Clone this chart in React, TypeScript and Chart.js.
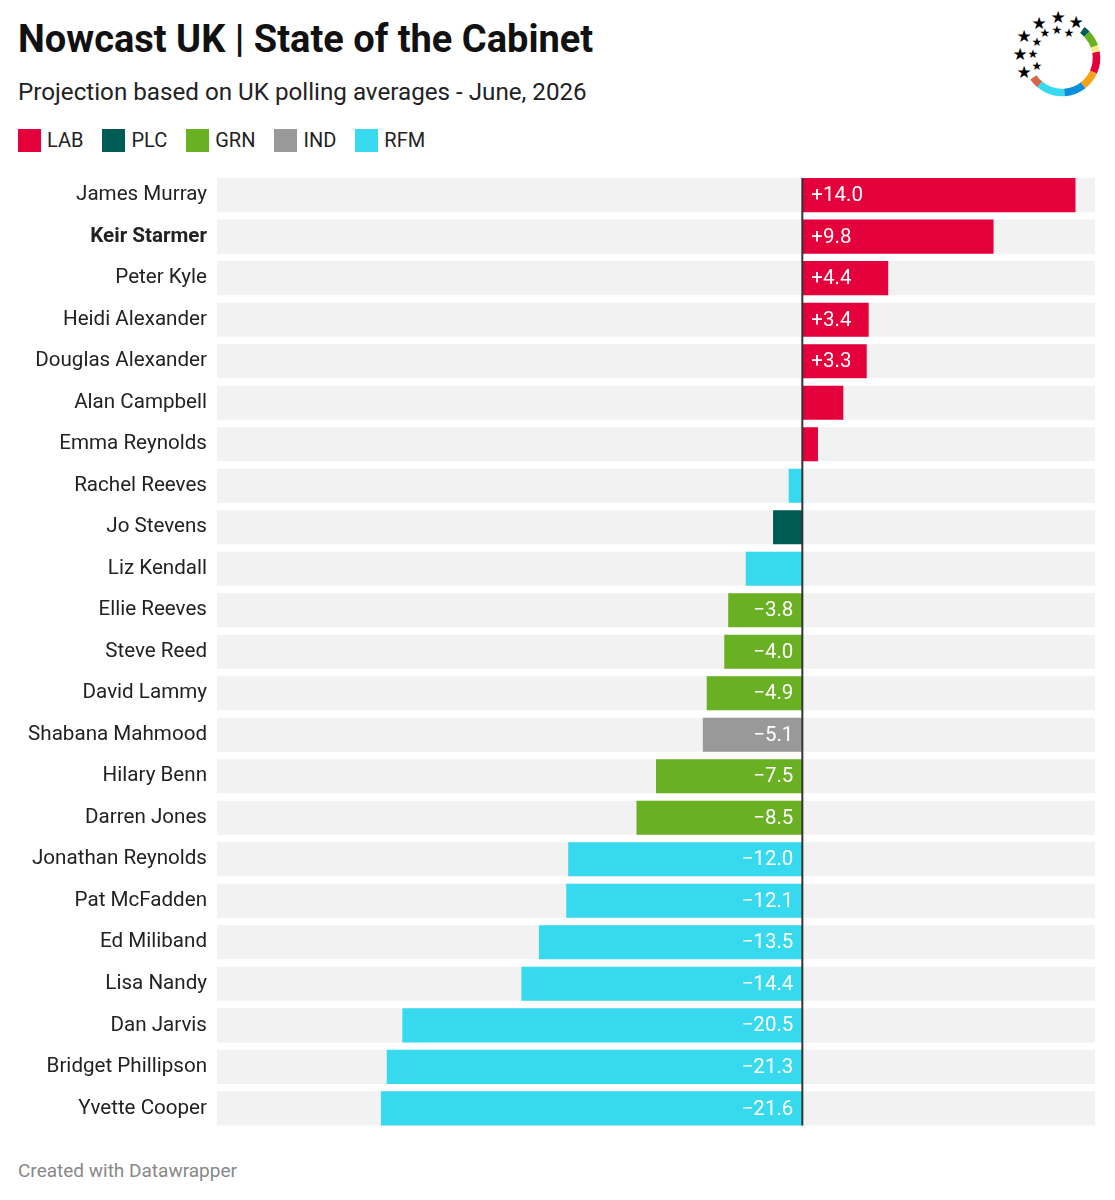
import React, { useEffect, useRef } from "react";
import { Chart, registerables } from "chart.js";

Chart.register(...registerables);

const names: string[] = [
  "James Murray", "Keir Starmer", "Peter Kyle", "Heidi Alexander", "Douglas Alexander",
  "Alan Campbell", "Emma Reynolds", "Rachel Reeves", "Jo Stevens", "Liz Kendall",
  "Ellie Reeves", "Steve Reed", "David Lammy", "Shabana Mahmood", "Hilary Benn",
  "Darren Jones", "Jonathan Reynolds", "Pat McFadden", "Ed Miliband", "Lisa Nandy",
  "Dan Jarvis", "Bridget Phillipson", "Yvette Cooper",
];
const values: number[] = [
  14.0, 9.8, 4.4, 3.4, 3.3, 2.1, 0.8, -0.7, -1.5, -2.9,
  -3.8, -4.0, -4.9, -5.1, -7.5, -8.5, -12.0, -12.1, -13.5, -14.4,
  -20.5, -21.3, -21.6,
];
const parties: string[] = [
  "LAB", "LAB", "LAB", "LAB", "LAB", "LAB", "LAB", "RFM", "PLC", "RFM",
  "GRN", "GRN", "GRN", "IND", "GRN", "GRN", "RFM", "RFM", "RFM", "RFM",
  "RFM", "RFM", "RFM",
];
const legendParties: string[] = ["LAB", "PLC", "GRN", "IND", "RFM"];
const partyColors: Record<string, string> = {
  LAB: "#e4003b",
  PLC: "#005b54",
  GRN: "#6ab023",
  IND: "#999999",
  RFM: "#37d9ee",
};
const highlighted: string[] = ["Keir Starmer"];
const axisMin = -30;
const axisMax = 15;
const labelThreshold = 3.3;

const FONT = "Roboto, 'Noto Sans', sans-serif";

function fmt(v: number): string {
  return (v > 0 ? "+" : "\u2212") + Math.abs(v).toFixed(1);
}

const overlayPlugin = {
  id: "overlay",
  afterDatasetsDraw(chart: any) {
    const { ctx } = chart;
    const xs = chart.scales.x;
    const meta = chart.getDatasetMeta(0);
    const zero = xs.getPixelForValue(0);
    ctx.save();
    ctx.font = `20.5px ${FONT}`;
    ctx.fillStyle = "#ffffff";
    ctx.textBaseline = "middle";
    meta.data.forEach((bar: any, i: number) => {
      const v = values[i];
      if (Math.abs(v) < labelThreshold) return;
      if (v > 0) {
        ctx.textAlign = "left";
        ctx.fillText(fmt(v), zero + 9, bar.y + 1);
      } else {
        ctx.textAlign = "right";
        ctx.fillText(fmt(v), zero - 9, bar.y + 1);
      }
    });
    const first = meta.data[0];
    const last = meta.data[meta.data.length - 1];
    ctx.strokeStyle = "#333333";
    ctx.lineWidth = 2;
    ctx.beginPath();
    ctx.moveTo(zero, first.y - first.height / 2);
    ctx.lineTo(zero, last.y + last.height / 2);
    ctx.stroke();
    ctx.restore();
  },
};

function Logo() {
  const cx = 72, cy = 58, r = 34.5;
  const segs: [number, number, string][] = [
    [130, 146, "#d4684a"],
    [86, 130, "#37d9ee"],
    [52, 86, "#0a8fdc"],
    [24, 52, "#f5a319"],
    [-10, 24, "#e4003b"],
    [-20, -10, "#f7e98a"],
    [-44, -20, "#6ab023"],
    [-54, -44, "#005b54"],
  ];
  const pt = (a: number) => {
    const rad = (a * Math.PI) / 180;
    return [cx + r * Math.cos(rad), cy + r * Math.sin(rad)];
  };
  const stars: [number, number, number][] = [
    [68, 17, 17], [86, 22, 17], [49, 23, 17], [34, 36, 17], [30, 54, 17], [34, 72, 17],
    [55, 33, 12], [67, 30, 12], [79, 33, 12], [47, 42, 12], [43, 54, 12], [47, 66, 12],
  ];
  return (
    <svg width={125} height={110} style={{ position: "absolute", left: 990, top: 0 }}>
      {segs.map(([a0, a1, c], i) => {
        const [x0, y0] = pt(a0);
        const [x1, y1] = pt(a1);
        return (
          <path
            key={i}
            d={`M ${x0} ${y0} A ${r} ${r} 0 0 ${a1 > a0 ? 1 : 0} ${x1} ${y1}`}
            stroke={c}
            strokeWidth={7.5}
            fill="none"
          />
        );
      })}
      {stars.map(([x, y, s], i) => (
        <text key={i} x={x} y={y} fontSize={s} textAnchor="middle" dominantBaseline="central" fill="#000" fontFamily="DejaVu Sans">
          ★
        </text>
      ))}
    </svg>
  );
}

export default function App() {
  const canvasRef = useRef<HTMLCanvasElement | null>(null);

  useEffect(() => {
    if (!canvasRef.current) return;
    const chart = new Chart(canvasRef.current, {
      type: "bar",
      data: {
        labels: names,
        datasets: [
          {
            data: values,
            backgroundColor: parties.map((p) => partyColors[p]),
            borderWidth: 0,
            grouped: false,
            order: 1,
            barPercentage: 0.82,
            categoryPercentage: 1,
          } as any,
          {
            data: names.map(() => [axisMin, axisMax]),
            backgroundColor: "#f2f2f2",
            borderWidth: 0,
            grouped: false,
            order: 2,
            barPercentage: 0.82,
            categoryPercentage: 1,
          } as any,
        ],
      },
      options: {
        indexAxis: "y",
        animation: false,
        responsive: true,
        maintainAspectRatio: false,
        layout: { padding: { top: 13, bottom: 11, left: 0, right: 20 } },
        plugins: { legend: { display: false }, tooltip: { enabled: false }, title: { display: false } },
        scales: {
          x: {
            type: "linear",
            min: axisMin,
            max: axisMax,
            display: false,
          },
          y: {
            grid: { display: false, drawTicks: false },
            border: { display: false },
            afterFit: (scale: any) => {
              scale.width = 217;
            },
            ticks: {
              color: "#222222",
              padding: 10,
              autoSkip: false,
              font: (ctx: any) => ({
                family: FONT,
                size: 20.6,
                weight: highlighted.includes(names[ctx.index]) ? "bold" : "normal",
              }),
            },
          },
        },
      },
      plugins: [overlayPlugin],
    } as any);
    return () => chart.destroy();
  }, []);

  return (
    <div style={{ position: "absolute", left: 0, top: 0, width: 1115, height: 1200, background: "#fff", fontFamily: FONT, color: "#111" }}>
      <div style={{ position: "absolute", left: 18, top: 14, fontSize: 38, fontWeight: 700, lineHeight: "50px", whiteSpace: "nowrap" }}>
        Nowcast UK | State of the Cabinet
      </div>
      <div style={{ position: "absolute", left: 18, top: 77, fontSize: 24.2, lineHeight: "30px", color: "#222", whiteSpace: "nowrap" }}>
        Projection based on UK polling averages - June, 2026
      </div>
      <div style={{ position: "absolute", left: 18, top: 128, display: "flex", alignItems: "center", fontSize: 20, color: "#222" }}>
        {legendParties.map((p) => (
          <div key={p} style={{ display: "flex", alignItems: "center", marginRight: 19 }}>
            <div style={{ width: 23, height: 23, background: partyColors[p], marginRight: 6 }} />
            <span style={{ lineHeight: "24px" }}>{p}</span>
          </div>
        ))}
      </div>
      <Logo />
      <div style={{ position: "absolute", left: 0, top: 151.6, width: 1115, height: 999.5 }}>
        <canvas ref={canvasRef} />
      </div>
      <div style={{ position: "absolute", left: 18, top: 1159, fontSize: 19, color: "#888", lineHeight: "24px" }}>
        Created with Datawrapper
      </div>
    </div>
  );
}
